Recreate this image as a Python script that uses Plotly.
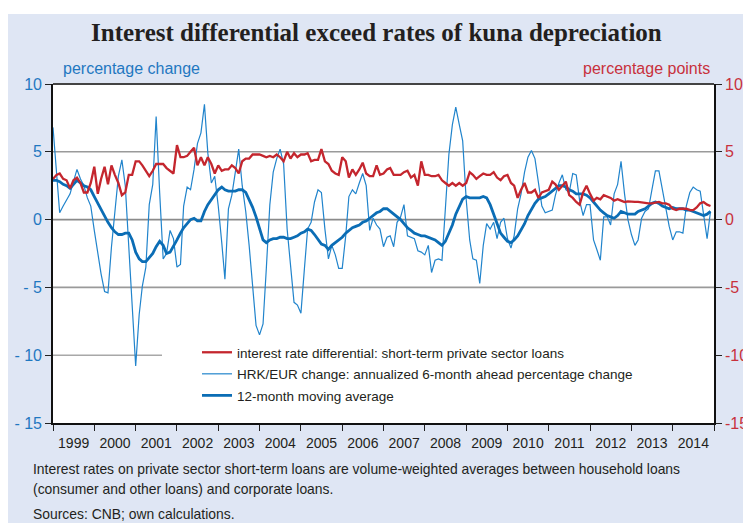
import pandas as pd
import plotly.graph_objects as go

# ---------------- data (monthly, Jan 1999 - Dec 2014) ----------------
months = pd.date_range("1999-01-01", periods=192, freq="MS")

interest_diff = [
    3.0, 3.3, 3.4, 3.0, 2.9, 2.3, 2.9, 3.1, 2.7, 2.0, 2.0, 2.7,
    3.9, 1.9, 3.0, 3.9, 2.6, 4.0, 3.3, 2.7, 1.8, 2.0, 3.3, 3.3,
    4.3, 4.3, 4.0, 3.6, 3.2, 3.6, 4.1, 4.1, 4.1, 3.8, 3.6, 3.4,
    5.5, 4.6, 4.6, 4.7, 5.0, 5.3, 4.0, 4.6, 4.0, 4.6, 4.1, 3.4,
    4.0, 3.6, 3.7, 3.7, 4.0, 3.8, 3.4, 4.3, 4.5, 4.5, 4.8, 4.8,
    4.8, 4.7, 4.6, 4.7, 4.6, 4.8, 4.6, 4.3, 5.0, 4.5, 4.9, 4.6,
    4.8, 4.8, 4.9, 4.3, 4.4, 4.4, 5.2, 4.3, 4.1, 3.6, 3.4, 3.3,
    4.6, 4.3, 3.1, 3.7, 3.3, 3.7, 4.2, 3.4, 3.2, 3.2, 4.0, 3.3,
    3.4, 3.7, 3.8, 3.3, 3.3, 3.3, 3.5, 3.6, 3.1, 3.3, 2.5, 4.3,
    3.3, 3.3, 3.2, 3.2, 3.3, 2.9, 2.7, 2.5, 2.7, 2.5, 2.7, 2.5,
    2.7, 3.5, 3.3, 3.0, 3.2, 3.4, 3.3, 3.3, 3.5, 3.1, 2.9, 3.2,
    3.3, 2.7, 2.5, 1.6, 2.2, 2.7, 2.0, 2.0, 2.2, 1.6, 2.0, 2.1,
    2.2, 2.8, 2.6, 2.2, 2.5, 2.8, 1.8, 1.6, 1.3, 1.1, 2.0, 2.5,
    1.9, 1.4, 1.6, 1.5, 1.8, 1.7, 1.6, 1.4, 1.5, 1.4, 1.3, 1.35,
    1.3, 1.3, 1.3, 1.25, 1.2, 1.2, 1.2, 1.25, 1.3, 1.2, 1.2, 1.1,
    0.8, 0.7, 0.8, 0.8, 0.8, 0.7, 0.7, 0.9, 1.2, 1.3, 1.1, 1.0,
]

hrk_eur_change = [
    6.8, 3.5, 0.5, 1.0, 1.4, 1.9, 2.8, 3.7, 3.0, 2.5, 1.6, 1.0,
    -0.8, -2.6, -4.0, -5.3, -5.4, -2.0, 0.5, 3.2, 4.4, 2.5, -2.0, -6.0,
    -10.8, -7.0, -4.9, -3.5, 1.1, 2.6, 7.6, 2.0, -2.9, -2.5, -0.8, -1.4,
    -3.5, -3.3, 1.0, 2.4, 2.2, 3.7, 5.6, 6.4, 8.5, 4.9, 2.7, 3.2,
    1.0, -1.7, -4.4, 0.8, 1.8, 3.5, 5.2, 2.5, 0.6, -1.9, -4.9, -7.8,
    -8.5, -7.7, -3.6, 1.1, 3.5, 4.5, 5.2, 4.1, -0.7, -3.6, -6.1, -6.3,
    -6.9, -3.6, -0.7, -0.2, 1.3, 2.2, 2.0, -0.7, -2.9, -1.9, -2.6, -3.6,
    -3.6, -1.2, 1.7, 2.2, 1.9, 2.7, 3.4, 2.5, -0.8, 0.1, -0.4, -0.7,
    -2.0, -1.3, -1.2, -2.0, -0.2, 0.2, 1.1, -1.2, -1.3, -1.4, -2.3, -2.4,
    -2.6, -1.9, -3.9, -3.0, -2.9, -3.0, 0.8, 4.8, 7.0, 8.3, 7.0, 5.8,
    1.5, -1.5, -2.9, -3.0, -4.7, -1.9, -0.3, -0.7, -0.2, -1.4, -0.2, 0.1,
    -1.4, -2.1, -1.2, 0.8, 1.9, 3.5, 4.6, 5.1, 4.5, 2.8, 1.0, 0.5,
    0.6, 0.7, 1.8, 2.7, 3.3, 2.2, 2.0, 3.4, 3.3, 1.4, 0.3, 1.1,
    1.1, -1.5, -2.2, -3.0, 0.2, 0.2, -0.4, 1.9, 2.6, 4.3, 1.9, 0.0,
    -1.1, -1.9, -1.5, 0.1, 0.6, 0.8, 2.2, 3.6, 3.6, 2.2, 0.7, -0.5,
    -1.5, -0.9, -0.9, -1.0, 1.0, 2.0, 2.4, 2.2, 2.1, 0.2, -1.4, 0.6,
]

moving_avg_12m = [
    2.9, 2.9, 2.8, 2.6, 2.5, 2.3, 2.6, 2.9, 2.7, 2.5, 2.4, 2.2,
    1.7, 1.2, 0.7, 0.2, -0.2, -0.6, -0.9, -1.1, -1.1, -1.0, -1.0, -1.5,
    -2.4, -2.9, -3.1, -3.1, -2.8, -2.5, -2.0, -1.6, -1.9, -2.5, -2.4, -2.0,
    -1.5, -1.0, -0.6, -0.3, 0.0, 0.1, -0.1, -0.1, 0.6, 1.1, 1.5, 1.9,
    2.2, 2.4, 2.2, 2.1, 2.1, 2.1, 2.2, 2.2, 2.0, 1.5, 0.9, 0.2,
    -0.7, -1.5, -1.7, -1.5, -1.4, -1.4, -1.3, -1.3, -1.4, -1.4, -1.3, -1.2,
    -1.0, -0.9, -0.7, -0.8, -1.1, -1.5, -1.8, -1.9, -2.2, -1.9, -1.7, -1.5,
    -1.3, -1.0, -0.8, -0.6, -0.5, -0.4, -0.2, -0.1, 0.1, 0.3, 0.5, 0.6,
    0.8, 0.8, 0.6, 0.4, 0.2, 0.0, -0.3, -0.6, -0.8, -1.0, -1.1, -1.2,
    -1.2, -1.3, -1.4, -1.5, -1.7, -1.9, -1.6, -1.0, -0.4, 0.4, 1.0, 1.5,
    1.7, 1.6, 1.6, 1.6, 1.6, 1.7, 1.6, 1.1, 0.4, -0.4, -1.0, -1.3,
    -1.6, -1.7, -1.5, -1.2, -0.8, -0.3, 0.3, 0.8, 1.2, 1.5, 1.6, 1.7,
    1.9, 2.1, 2.3, 2.5, 2.5, 2.4, 2.2, 2.1, 1.9, 1.9, 1.9, 1.8,
    1.6, 1.3, 1.0, 0.7, 0.5, 0.3, 0.2, 0.1, 0.3, 0.6, 0.5, 0.4,
    0.4, 0.4, 0.6, 0.7, 0.8, 1.0, 1.2, 1.3, 1.2, 1.0, 0.9, 0.8,
    0.9, 0.8, 0.8, 0.8, 0.7, 0.7, 0.6, 0.5, 0.4, 0.3, 0.4, 0.6,
]

y_tickvals = [10, 5, 0, -5, -10, -15]
left_ticktext = ["10", "5", "0", "- 5", "- 10", "- 15"]
right_ticktext = ["10", "5", "0", "-5", "-10", "-15"]

# ---------------- styling ----------------
PANEL = "#dfe6f4"
RED = "#c4262e"
BLUE_THIN = "#2184cc"
BLUE_THICK = "#0b6db5"
BLUE_TXT = "#1f78c1"
RED_TXT = "#c8313c"
FONT = "Liberation Sans, Arial, sans-serif"

OFF = 8  # page body margin
W, H = 751 - OFF, 523 - OFF
L, T = 53 - OFF, 84 - OFF
pw, ph = 661, 339
R = W - L - pw
B = H - T - ph


def px_x(px):  # px: page pixel x in the reference
    return (px - OFF - L) / pw


def px_y(py):  # py: page pixel y in the reference
    return (T + ph - (py - OFF)) / ph


fig = go.Figure()

fig.add_trace(go.Scatter(
    x=months, y=interest_diff, mode="lines", yaxis="y2",
    name="interest rate differential: short-term private sector loans",
    line=dict(color=RED, width=2.3), legendgroup="a",
))
fig.add_trace(go.Scatter(
    x=months, y=hrk_eur_change, mode="lines",
    name="HRK/EUR change: annualized 6-month ahead percentage change",
    line=dict(color=BLUE_THIN, width=1.2), legendgroup="b",
))
fig.add_trace(go.Scatter(
    x=months, y=moving_avg_12m, mode="lines",
    name="12-month moving average",
    line=dict(color=BLUE_THICK, width=2.8), legendgroup="c",
))

shapes = [
    # white strip above the blue panel
    dict(type="rect", xref="paper", yref="paper", x0=px_x(0), x1=px_x(760),
         y0=px_y(14), y1=px_y(0), fillcolor="white", line=dict(width=0), layer="below"),
    # gridlines
    dict(type="line", xref="paper", yref="y", x0=0, x1=1, y0=5, y1=5,
         line=dict(color="#9a9a9a", width=1.6), layer="below"),
    dict(type="line", xref="paper", yref="y", x0=0, x1=1, y0=0, y1=0,
         line=dict(color="#8a8a8a", width=1.6), layer="below"),
    dict(type="line", xref="paper", yref="y", x0=0, x1=1, y0=-5, y1=-5,
         line=dict(color="#9a9a9a", width=1.6), layer="below"),
    dict(type="line", xref="paper", yref="y", x0=0, x1=px_x(162), y0=-10, y1=-10,
         line=dict(color="#a8a8a8", width=1.6), layer="below"),
    # top frame
    dict(type="line", xref="paper", yref="paper", x0=0, x1=1, y0=1, y1=1,
         line=dict(color="#444444", width=2.2)),
]

annotations = [
    dict(text="<b>Interest differential exceed rates of kuna depreciation</b>",
         x=px_x(376), y=px_y(33), xref="paper", yref="paper", showarrow=False,
         xanchor="center", yanchor="middle",
         font=dict(family="Liberation Serif, Times New Roman, serif", size=25, color="#231f20")),
    dict(text="percentage change", x=px_x(61), y=px_y(68), xref="paper", yref="paper",
         showarrow=False, xanchor="left", yanchor="middle",
         font=dict(family=FONT, size=16, color=BLUE_TXT)),
    dict(text="percentage points", x=px_x(712), y=px_y(68), xref="paper", yref="paper",
         showarrow=False, xanchor="right", yanchor="middle",
         font=dict(family=FONT, size=16, color=RED_TXT)),
    dict(text="Interest rates on private sector short-term loans are volume-weighted averages between household loans",
         x=px_x(31), y=px_y(469), xref="paper", yref="paper", showarrow=False,
         xanchor="left", yanchor="middle", font=dict(family=FONT, size=13.9, color="#231f20")),
    dict(text="(consumer and other loans) and corporate loans.",
         x=px_x(31), y=px_y(489), xref="paper", yref="paper", showarrow=False,
         xanchor="left", yanchor="middle", font=dict(family=FONT, size=13.9, color="#231f20")),
    dict(text="Sources: CNB; own calculations.",
         x=px_x(31), y=px_y(514), xref="paper", yref="paper", showarrow=False,
         xanchor="left", yanchor="middle", font=dict(family=FONT, size=13.9, color="#231f20")),
]

fig.update_layout(
    width=W, height=H,
    margin=dict(l=L, r=R, t=T, b=B, autoexpand=False),
    paper_bgcolor=PANEL, plot_bgcolor="white",
    font=dict(family=FONT, color="#231f20"),
    showlegend=True,
    legend=dict(x=px_x(197), y=px_y(337), xanchor="left", yanchor="top",
                bgcolor="rgba(255,255,255,0)", borderwidth=0,
                font=dict(family=FONT, size=13.5, color="#231f20"),
                tracegroupgap=1, itemwidth=30),
    shapes=shapes,
    annotations=annotations,
    xaxis=dict(
        type="date", range=["1999-01-01", "2015-01-01"],
        dtick="M12", tick0="1999-01-01", tickformat="%Y", ticklabelmode="period",
        ticks="outside", ticklen=6, tickwidth=1.2, tickcolor="#222",
        showgrid=False, zeroline=False,
        showline=True, linecolor="#111", linewidth=1.6,
        tickfont=dict(family=FONT, size=14, color="#231f20"),
    ),
    yaxis=dict(
        range=[-15, 10], tickvals=y_tickvals, ticktext=left_ticktext,
        ticks="outside", ticklen=6, tickwidth=1.2, tickcolor="#222",
        showgrid=False, zeroline=False,
        showline=True, linecolor="#111", linewidth=1.6,
        tickfont=dict(family=FONT, size=16, color=BLUE_TXT),
    ),
    yaxis2=dict(
        range=[-15, 10], tickvals=y_tickvals, ticktext=right_ticktext,
        overlaying="y", side="right",
        ticks="outside", ticklen=6, tickwidth=1.2, tickcolor="#222",
        showgrid=False, zeroline=False,
        showline=True, linecolor="#111", linewidth=1.6,
        tickfont=dict(family=FONT, size=16, color=RED_TXT),
    ),
)

fig.write_html("out.html")
